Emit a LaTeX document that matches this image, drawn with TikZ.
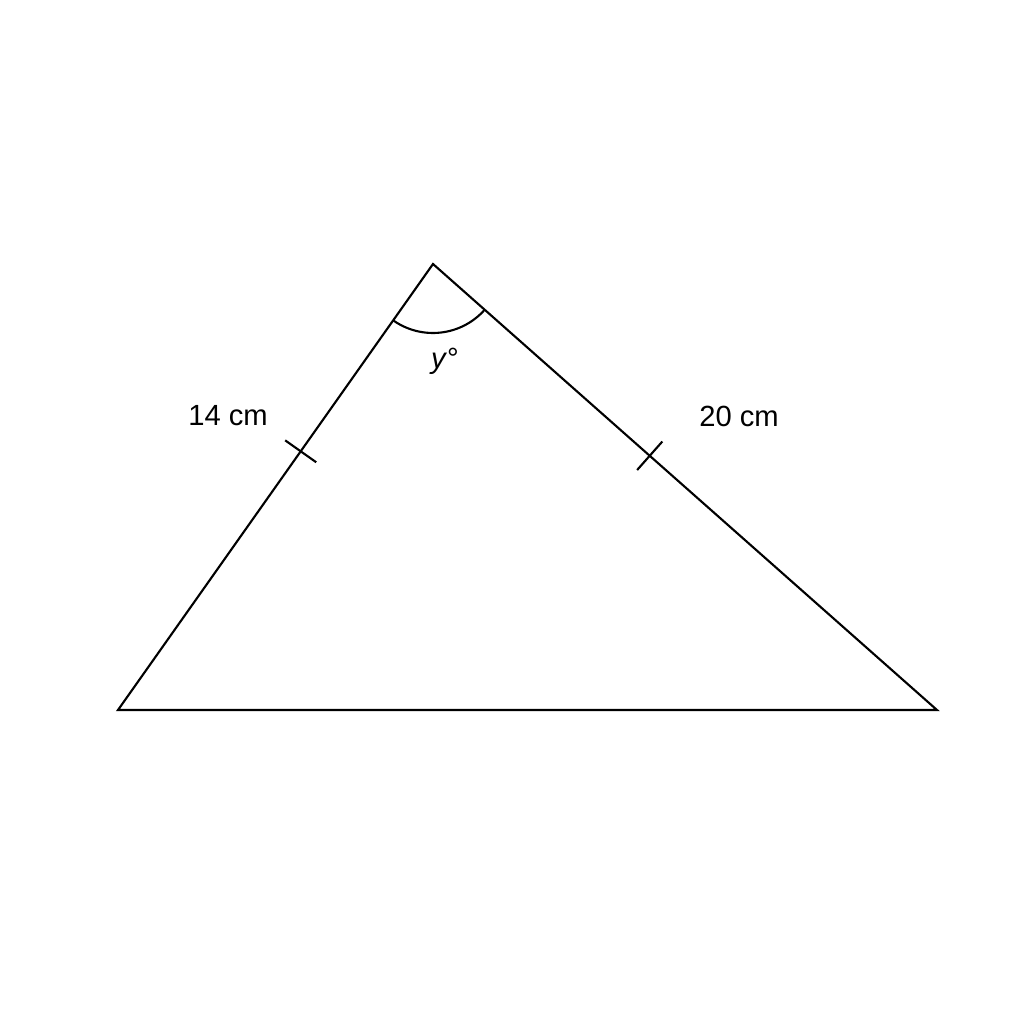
\documentclass[tikz,border=0pt]{standalone}
\usepackage{fontspec}
\setmainfont{Liberation Sans}
\usepackage{tikz}
\usetikzlibrary{calc,angles}
\newcommand{\sidetick}[4]{\coordinate (#4) at ($(#1)!#3!(#2)$);\draw ($(#4)!.19cm!90:(#1)$) -- ($(#4)!.19cm!-90:(#1)$);}

\begin{document}
\begin{tikzpicture}[line width=.6pt,font=\fontsize{8.3}{10}\selectfont]
    \useasboundingbox (0,0) rectangle (10.24,10.24);
    \coordinate (A) at (4.33,7.60);
    \coordinate (B) at (1.18,3.14);
    \coordinate (C) at (9.37,3.14);
    \draw (A) -- (B) -- (C) -- cycle;

    \sidetick{A}{B}{.42}{tAB}
    \sidetick{A}{C}{.43}{tAC}

    \pic[draw,angle radius=.69cm] {angle=B--A--C};

    \node (lAB) at (2.28,6.08) {14 cm};
    \node (lAC) at (7.39,6.08) {20 cm};
    \node (ly) at (4.45,6.63) {\textit{y}°};
  \end{tikzpicture}
\end{document}
